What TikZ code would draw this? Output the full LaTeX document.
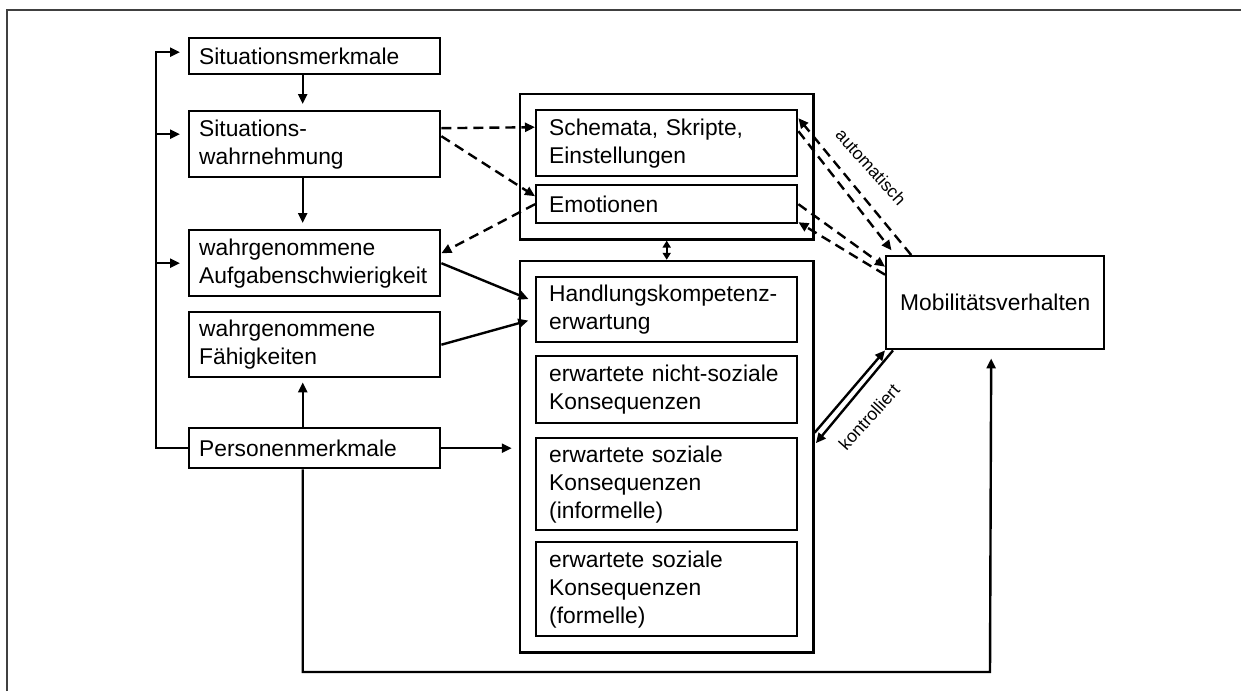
\documentclass[tikz,border=0pt]{standalone}
\usepackage{fontspec}
\setmainfont{Liberation Sans}
\usetikzlibrary{arrows.meta,fit,positioning}

\begin{document}
\begin{tikzpicture}[x=0.5pt, y=-0.5pt, line width=1.2pt, >={Triangle[length=5pt,width=4.5pt]},
    lbox/.style={draw, anchor=north west, align=left, inner xsep=5pt, inner ysep=0pt,
      text width=115.5pt, font=\fontsize{11.4}{14}\selectfont},
    mbox/.style={lbox, inner xsep=6.5pt, text width=117.5pt},
    grp/.style={draw, inner sep=7.5pt},
    dsh/.style={dash pattern=on 5pt off 3pt},
    lab/.style={font=\fontsize{8.8}{10}\selectfont, inner sep=1pt}]
  \useasboundingbox (0,0) rectangle (1241,691);
  \draw[black!75, line width=0.8pt] (7,691) -- (7,10) -- (1241,10);

  % left column
  \node[lbox, minimum height=18pt] (sitm) at (188,37) {Situationsmerkmale};
  \node[lbox, minimum height=33pt] (sitw) at (188,110) {Situations-\\wahrnehmung};
  \node[lbox, minimum height=33pt] (aufg) at (188,229) {wahrgenommene\\Aufgabenschwierigkeit};
  \node[lbox, minimum height=32.5pt] (faeh) at (188,311) {wahrgenommene\\Fähigkeiten};
  \node[lbox, minimum height=20pt] (pers) at (188,427) {Personenmerkmale};

  % middle column
  \node[mbox, minimum height=33pt] (schem) at (535,109) {Schemata, Skripte,\\Einstellungen};
  \node[mbox, minimum height=19pt] (emo) at (535,184) {Emotionen};
  \node[mbox, minimum height=32.5pt] (hand) at (535,276) {Handlungskompetenz-\\erwartung};
  \node[mbox, minimum height=33.5pt] (nsoz) at (535,355) {erwartete nicht-soziale\\Konsequenzen};
  \node[mbox, minimum height=46pt] (inf) at (535,437) {erwartete soziale\\Konsequenzen\\(informelle)};
  \node[mbox, minimum height=47pt] (form) at (535,541) {erwartete soziale\\Konsequenzen\\(formelle)};
  \node[grp, fit=(schem)(emo)] (grpA) {};
  \node[grp, fit=(hand)(form)] (grpB) {};

  \node[draw, anchor=north west, minimum width=109pt, minimum height=46.5pt,
    font=\fontsize{11.4}{14}\selectfont] (mob) at (885,255) {Mobilitätsverhalten};

  % rail on the left
  \coordinate (rail) at (156,0);
  \draw[->, shorten >=4pt] (pers.west) -- (rail |- pers.west) |- ([yshift=2pt]sitm.west);
  \draw[->, shorten >=4pt] (rail |- pers.west) |- ([yshift=5pt]sitw.west);
  \draw[->, shorten >=4pt] (rail |- pers.west) |- (aufg.west);

  \draw[->, shorten >=3pt] ([xshift=-6pt]sitm.south) -- ([xshift=-6pt]sitw.north);
  \draw[->, shorten >=3pt] ([xshift=-6pt]sitw.south) -- ([xshift=-6pt]aufg.north);
  \draw[->, shorten >=2pt] ([xshift=-6pt]pers.north) -- ([xshift=-6pt]faeh.south);
  \draw[->, shorten >=3.5pt] (pers.east) -- (pers.east -| grpB.west);

  \draw[->, shorten >=3.5pt] (aufg.east) -- ([yshift=4pt]hand.west);
  \draw[->, shorten >=3.5pt] (faeh.east) -- ([yshift=-4.5pt]hand.west);

  % dashed links
  \draw[dsh, ->] ([yshift=8pt]sitw.east) -- ([yshift=8pt]schem.west);
  \draw[dsh, ->] ([yshift=4pt]sitw.east) -- ([yshift=4pt]emo.west);
  \draw[dsh, ->] (emo.west) -- ([yshift=5pt]aufg.east);

  \draw[{Triangle[length=3.5pt,width=4pt]}-{Triangle[length=3.5pt,width=4pt]}] (grpA.south) -- (grpB.north);

  % automatisch
  \draw[dsh, ->] ([xshift=-42pt]mob.north) -- ([yshift=12.5pt]schem.east);
  \draw[dsh, ->, shorten >=3pt] ([yshift=6pt]schem.east) -- ([xshift=-50pt]mob.north);
  \draw[dsh, ->] (emo.east) -- ([yshift=18pt]mob.west);
  \draw[dsh, ->] ([yshift=14pt]mob.west) -- ([yshift=-9pt]emo.east);
  \node[lab, rotate=-48] (auto) at (871,167) {automatisch};

  % kontrolliert
  \draw[->] ([yshift=12pt]grpB.east) -- (mob.south west);
  \draw[->, shorten >=1pt] ([xshift=4pt]mob.south west) -- ([yshift=6pt]grpB.east);
  \node[lab, rotate=48] (kontr) at (869,417) {kontrolliert};

  \coordinate (bot) at (990,672);
  \draw[->, shorten >=4pt] ([xshift=-6pt]pers.south) |- (bot) -- ([xshift=-2pt]mob.south);
\end{tikzpicture}
\end{document}
